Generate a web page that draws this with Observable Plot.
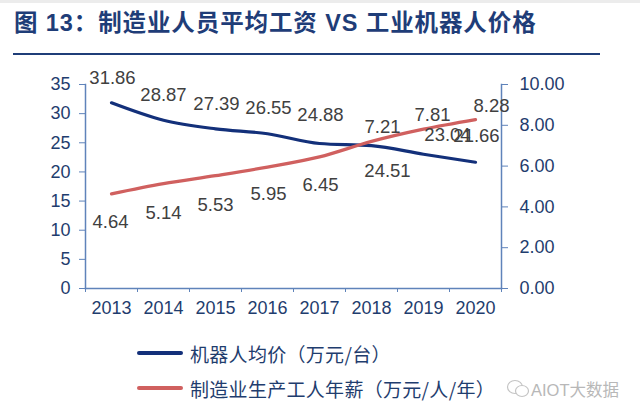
<!DOCTYPE html>
<html><head><meta charset="utf-8">
<style>
html,body{margin:0;padding:0;background:#fff;width:640px;height:416px;overflow:hidden}
body{position:relative;font-family:"Liberation Sans","Noto Sans CJK SC",sans-serif}
#title{position:absolute;left:14px;top:4px;font:bold 23.5px "Liberation Sans","Noto Sans CJK SC",sans-serif;color:#1f3d78;white-space:pre;letter-spacing:.9px}
#rule{position:absolute;left:13px;top:53px;width:587px;height:2px;background:#1f3d78}
#top{position:absolute;left:0;top:0;width:640px;height:3px;background:#ececec}
#chart{position:absolute;left:0;top:60px}
.lg{position:absolute;left:137px;display:flex;align-items:center;font:19px "Noto Sans CJK SC","Liberation Sans",sans-serif;letter-spacing:.3px;color:#1f3d6e;white-space:pre;height:26px}
.lg i{display:block;width:46px;height:3.5px;border-radius:2px;margin-right:7px}
#wm{position:absolute;left:505px;top:376px;display:flex;align-items:center;font:16.5px "Liberation Sans","Noto Sans CJK SC",sans-serif;color:#b8b8b8;height:26px}
</style>
<script src="https://cdn.jsdelivr.net/npm/d3@7"></script>
<script src="https://cdn.jsdelivr.net/npm/@observablehq/plot@0.6"></script>
</head><body>
<div id="top"></div>
<div id="title">图 13：制造业人员平均工资 VS 工业机器人价格</div>
<div id="rule"></div>
<div id="chart"></div>
<div class="lg" style="top:340px"><i style="background:#13307a"></i>机器人均价（万元/台）</div>
<div class="lg" style="top:375px"><i style="background:#d0605f"></i>制造业生产工人年薪（万元/人/年）</div>
<div id="wm"><svg width="26" height="22" viewBox="0 0 26 22" fill="none" stroke="#c4c4c4" stroke-width="1.2"><ellipse cx="10" cy="9" rx="7.5" ry="6.5"/><ellipse cx="17" cy="13" rx="6.5" ry="5.5" fill="#fff"/></svg><span>AIOT大数据</span></div>
<script>
const years = [2013, 2014, 2015, 2016, 2017, 2018, 2019, 2020];
const robotPrice = [31.86, 28.87, 27.39, 26.55, 24.88, 24.51, 23.04, 21.66];
const workerPay = [4.64, 5.14, 5.53, 5.95, 6.45, 7.21, 7.81, 8.28];
const leftTicks = [0, 5, 10, 15, 20, 25, 30, 35];
const rightTicks = [0, 2, 4, 6, 8, 10];

// label nudges, in pixels, as the reference places them
const robotNudge = [[1,-25],[0,-25],[1,-25],[1,-26],[1,-28],[16,25],[24,-19],[1,-26]];
const payNudge = [[-1,28],[0,29],[0,29],[1,27],[1,28],[11,-14],[9,-14],[16,-14]];

const ratio = 35 / 10;
const blue = "#13307a", red = "#d0605f", axisC = "#5f83ba", tickC = "#1f3d6e", labelC = "#404040";
const robotRows = years.map((y, i) => ({year: y, v: robotPrice[i]}));
const payRows = years.map((y, i) => ({year: y, v: workerPay[i] * ratio, t: workerPay[i]}));

const labels = (rows, nudge, text) => rows.map((r, i) => Plot.text([r], {
  x: "year", y: "v", text, dx: nudge[i][0], dy: nudge[i][1],
  fontSize: 18.5, fill: labelC
}));

const chart = Plot.plot({
  width: 640, height: 264,
  marginTop: 24, marginBottom: 36, marginLeft: 85, marginRight: 139,
  style: {fontFamily: '"Liberation Sans",sans-serif', background: "transparent", overflow: "visible"},
  x: {domain: [2012.5, 2020.5]},
  y: {domain: [0, 35]},
  marks: [
    Plot.axisY(leftTicks, {anchor: "left", label: null, fontSize: 18, stroke: axisC, tickSize: 6, tickPadding: 9, tickFormat: d => d, fill: tickC}),
    Plot.axisY(rightTicks.map(v => v * ratio), {anchor: "right", label: null, fontSize: 18, stroke: axisC, tickSize: 6, tickPadding: 12, fill: tickC, tickFormat: d => (d / ratio).toFixed(2)}),
    Plot.axisX(d3.range(2012.5, 2021), {anchor: "bottom", label: null, stroke: axisC, tickSize: 4, text: null}),
    Plot.axisX(years, {anchor: "bottom", label: null, fontSize: 18, fill: tickC, tickSize: 0, tickPadding: 13, tickFormat: d => String(d)}),
    Plot.frame({anchor: "left", stroke: axisC, strokeWidth: 1.5}),
    Plot.frame({anchor: "right", stroke: axisC, strokeWidth: 1.5}),
    Plot.frame({anchor: "bottom", stroke: axisC, strokeWidth: 1.5}),
    Plot.line(robotRows, {x: "year", y: "v", stroke: blue, strokeWidth: 3.2, curve: "monotone-x"}),
    Plot.line(payRows, {x: "year", y: "v", stroke: red, strokeWidth: 3.2, curve: "monotone-x"}),
    ...labels(robotRows, robotNudge, d => d.v.toFixed(2)),
    ...labels(payRows, payNudge, d => d.t.toFixed(2))
  ]
});
document.getElementById("chart").append(chart);
</script>
</body></html>
